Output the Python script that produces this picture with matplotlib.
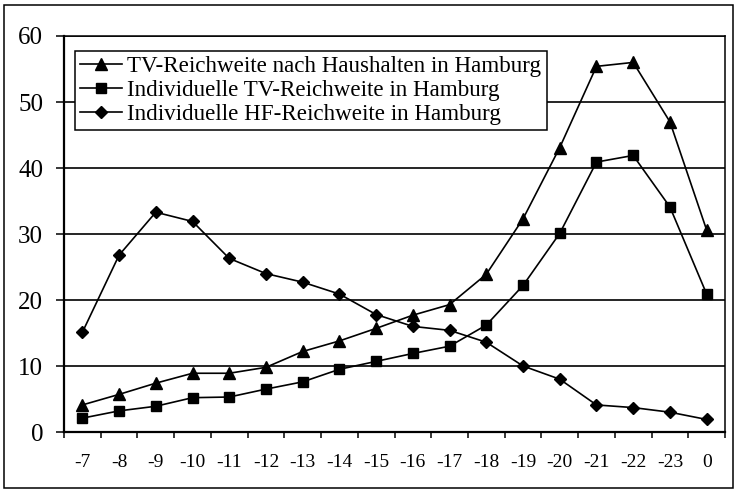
import matplotlib.pyplot as plt
import numpy as np
from matplotlib.patches import Rectangle

plt.rcParams['font.family'] = ['Liberation Serif', 'DejaVu Serif']

# stunden (category labels)
hours = ["-7", "-8", "-9", "-10", "-11", "-12", "-13", "-14", "-15",
         "-16", "-17", "-18", "-19", "-20", "-21", "-22", "-23", "0"]

# values
tv_haushalte = [4.1, 5.7, 7.4, 8.9, 8.9, 9.8, 12.2, 13.8, 15.7,
                17.7, 19.3, 23.9, 32.3, 43.1, 55.4, 56.0, 47.0, 30.6]
tv_individuell = [2.1, 3.2, 3.9, 5.2, 5.3, 6.5, 7.6, 9.5, 10.7,
                  11.9, 13.0, 16.2, 22.2, 30.1, 40.9, 41.9, 34.1, 20.9]
hf_individuell = [15.1, 26.8, 33.3, 31.9, 26.3, 24.0, 22.7, 20.9, 17.8,
                  16.0, 15.4, 13.6, 10.0, 8.0, 4.1, 3.7, 3.0, 1.9]

labels = ["TV-Reichweite nach Haushalten in Hamburg",
          "Individuelle TV-Reichweite in Hamburg",
          "Individuelle HF-Reichweite in Hamburg"]

W, H = 734, 490
fig = plt.figure(figsize=(W / 100, H / 100), dpi=100)
ax = fig.add_axes([64 / W, 1 - 432 / H, (725 - 64) / W, (432 - 36) / H])

x = np.arange(len(hours))
ax.plot(x, tv_haushalte, color="black", lw=1.2, marker="^", ms=8, label=labels[0], zorder=3)
ax.plot(x, tv_individuell, color="black", lw=1.2, marker="s", ms=7.5, label=labels[1], zorder=3)
ax.plot(x, hf_individuell, color="black", lw=1.2, marker="D", ms=6.3, label=labels[2], zorder=3)

ax.set_xlim(-0.5, len(hours) - 0.5)
ax.set_ylim(0, 60)
ax.set_yticks(np.arange(0, 61, 10))
ax.yaxis.grid(True, color="black", lw=1.2)
ax.set_axisbelow(True)

ax.set_xticks(x)
ax.set_xticklabels(hours, fontsize=14)
ax.set_xticks(np.arange(-0.5, len(hours)), minor=True)
ax.tick_params(axis="x", which="major", length=0, pad=16)
ax.tick_params(axis="x", which="minor", length=4, width=1.1, direction="out")
ax.tick_params(axis="y", length=6, width=1.1, direction="out", labelsize=18, pad=9)

for s in ["left", "bottom"]:
    ax.spines[s].set_linewidth(1.6)
for s in ["top", "right"]:
    ax.spines[s].set_linewidth(1.1)

leg = ax.legend(loc="upper left", bbox_to_anchor=(11 / 661, 1 - 15 / 396),
                fontsize=16.6, frameon=True, fancybox=False, borderaxespad=0,
                handlelength=1.8, handletextpad=0.25, labelspacing=0.12,
                borderpad=0.22)
leg.get_frame().set_edgecolor("black")
leg.get_frame().set_linewidth(1.1)
leg.get_frame().set_alpha(1)

# outer frame around the whole chart
fig.patches.append(Rectangle((4 / W, 1 - 488 / H), (733 - 4) / W, (488 - 5) / H,
                             transform=fig.transFigure, fill=False,
                             edgecolor="black", lw=1.1))

fig.savefig("out.png", dpi=100)
